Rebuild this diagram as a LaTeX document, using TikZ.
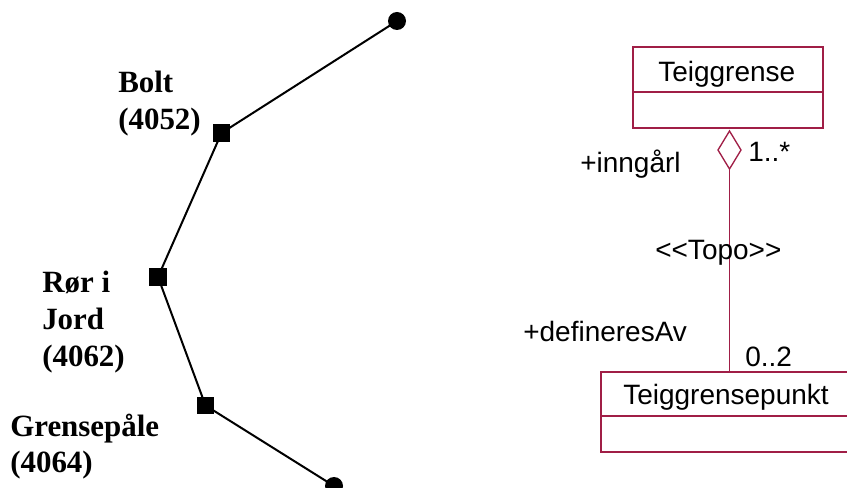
\documentclass[tikz,border=0pt]{standalone}
\usepackage{fontspec}
\setmainfont{Liberation Serif}
\newfontfamily\umlfont{Liberation Sans}
\definecolor{uml}{RGB}{160,30,70}
\begin{document}
\begin{tikzpicture}[x=0.75pt,y=-0.75pt,
  lbl/.style={anchor=base west,inner sep=0pt,font=\fontsize{23.2}{27}\selectfont\bfseries},
  ulbl/.style={anchor=base west,inner sep=0pt,font=\umlfont\fontsize{21}{24}\selectfont},
  sq/.style={fill=black,draw=none,minimum size=13.2pt,inner sep=0pt,shape=rectangle},
  dot/.style={fill=black,draw=none,circle,minimum size=13.5pt,inner sep=0pt},
  umlbox/.style={draw=uml,line width=1pt},
  umlline/.style={draw=uml,line width=1pt}]
\useasboundingbox (0,0) rectangle (847,488);
\clip (0,0) rectangle (847,488);
% left chain
\node[dot] (c1) at (397,21) {};
\node[sq] (s1) at (221.5,133) {};
\node[sq] (s2) at (158,277) {};
\node[sq] (s3) at (205.5,405.5) {};
\node[dot] (c2) at (334,486) {};
\draw[line width=1.5pt] (c1.center) -- (s1.center) -- (s2.center) -- (s3.center) -- (c2.center);
\node[lbl] (b1) at (118,93) {Bolt};
\node[lbl] (b2) at (118,130) {(4052)};
\node[lbl] (r1) at (42,293) {Rør i};
\node[lbl] (r2) at (42,330) {Jord};
\node[lbl] (r3) at (42,367) {(4062)};
\node[lbl] (g1) at (10,437) {Grensepåle};
\node[lbl] (g2) at (10,473) {(4064)};
% UML
\draw[umlbox] (633,47) rectangle (823,128);
\draw[umlline] (633,92) -- (823,92);
\node[ulbl] (tg) at (658,82) {Teiggrense};
\draw[umlbox] (601,372) rectangle (860,452);
\draw[umlline] (601,416) -- (860,416);
\node[ulbl] (tgp) at (623,405) {Teiggrensepunkt};
\coordinate (dt) at (729.5,131);
\coordinate (dl) at (718,150);
\coordinate (dr) at (741,150);
\coordinate (db) at (729.5,169);
\coordinate (pt) at (729.5,372);
\draw[umlline,fill=white] (dt) -- (dr) -- (db) -- (dl) -- cycle;
\draw[umlline] (db) -- (pt);
\node[ulbl] (m1) at (748,162) {1..*};
\node[ulbl] (rl1) at (580,173) {+inngårl};
\node[ulbl] (st) at (655,260) {<{}<Topo>{}>};
\node[ulbl] (rl2) at (523,342) {+defineresAv};
\node[ulbl] (m2) at (745,367) {0..2};
\end{tikzpicture}
\end{document}
